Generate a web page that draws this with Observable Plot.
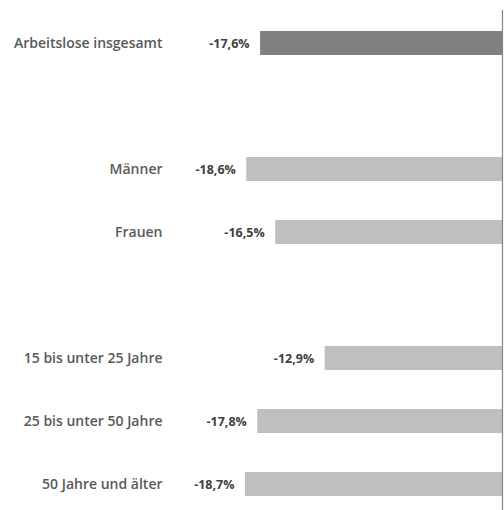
<!DOCTYPE html>
<html>
<head>
<meta charset="utf-8">
<script src="https://cdn.jsdelivr.net/npm/d3@7"></script>
<script src="https://cdn.jsdelivr.net/npm/@observablehq/plot@0.6"></script>
<style>
  html, body { margin: 0; padding: 0; background: #fff; }
  #chart svg { display: block; }
</style>
</head>
<body>
<div id="chart"></div>
<script>
const categories = ["Arbeitslose insgesamt", "Männer", "Frauen", "15 bis unter 25 Jahre", "25 bis unter 50 Jahre", "50 Jahre und älter"];
const values = [-17.6, -18.6, -16.5, -12.9, -17.8, -18.7];
const groups = ["total", "sex", "sex", "age", "age", "age"];
// slot order with blank spacer rows between groups
const slots = ["Arbeitslose insgesamt", "\u00a0", "Männer", "Frauen", "\u00a0\u00a0", "15 bis unter 25 Jahre", "25 bis unter 50 Jahre", "50 Jahre und älter"];

const data = categories.map((c, i) => ({category: c, value: values[i], group: groups[i]}));

const de = d3.formatLocale({decimal: ",", thousands: ".", grouping: [3], currency: ["", "€"], minus: "-"});
const fmt = v => de.format(".1f")(v) + "%";

const chart = Plot.plot({
  width: 504,
  height: 510,
  marginLeft: 170,
  marginRight: 2,
  marginTop: 10,
  marginBottom: 0,
  style: {fontFamily: "'Open Sans', sans-serif", background: "#fff"},
  x: {domain: [-24.15, 0], axis: null},
  y: {domain: slots, range: [10, 516], padding: 0.62, paddingOuter: 0.31, axis: null},
  marks: [
    Plot.barX(data, {
      x: "value", y: "category",
      fill: d => d.group === "total" ? "#808080" : "#bfbfbf"
    }),
    Plot.text(data, {
      y: "category", text: "category",
      frameAnchor: "left", textAnchor: "end", dx: -8,
      fill: "#595959", fontSize: 14, fontWeight: 600
    }),
    Plot.text(data, {
      x: "value", y: "category", text: d => fmt(d.value),
      textAnchor: "end", dx: -11,
      fill: "#404040", fontSize: 12.5, fontWeight: "bold"
    }),
    Plot.ruleX([0], {stroke: "#868686", strokeWidth: 1.2})
  ]
});
document.getElementById("chart").appendChild(chart);
</script>
</body>
</html>
